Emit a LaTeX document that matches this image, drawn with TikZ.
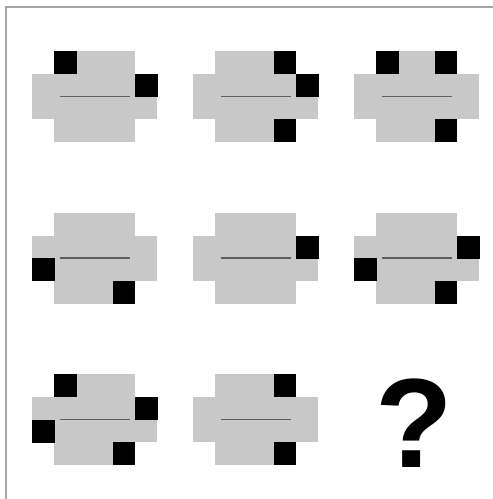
\documentclass[tikz,border=0pt]{standalone}
\usepackage{fontspec}
\setmainfont{Liberation Sans}
\usepackage{tikz}
\usetikzlibrary{positioning}
\definecolor{bodygray}{RGB}{200,200,200}
\definecolor{rulegray}{RGB}{95,95,95}
\definecolor{framegray}{RGB}{165,165,165}

\begin{document}
\begin{tikzpicture}[
    x=1pt, y=-1pt,
    body/.style={fill=bodygray},
    blackbox/.style={fill=black},
    midline/.style={draw=rulegray, line width=1.5pt},
    frameline/.style={draw=framegray, line width=1.5pt},
    query/.style={font=\fontsize{127}{127}\selectfont\bfseries, inner sep=0pt},
    puzzle/.pic={
        \fill[body] (-62.5,-22.5) rectangle (62.5,22.5);
        \fill[body] (-40.5,-45.5) rectangle (40.5,45.5);
        \draw[midline] (-35,0) -- (35,0);
        \coordinate (A) at (-40.5,-45.5); % top left
        \coordinate (B) at (18,-45.5);    % top right
        \coordinate (C) at (18,22.5);     % bottom right
        \coordinate (E) at (40.5,-22.5);  % right side
        \coordinate (F) at (-62.5,0);     % left side
        \foreach \s in {#1} {\fill[blackbox] (\s) rectangle ++(22.5,23);}
    }
]
\useasboundingbox (0,0) rectangle (493,499);
\draw[frameline] (493,7) -- (6,7) -- (6,499);

% row 1
\pic (p11) at (94.5,96.5) {puzzle={A,E}};
\pic (p12) at (255.5,96.5) {puzzle={B,E,C}};
\pic (p13) at (416.5,96.5) {puzzle={A,B,C}};
% row 2
\pic (p21) at (94.5,258) {puzzle={F,C}};
\pic (p22) at (255.5,258) {puzzle={E}};
\pic (p23) at (416.5,258) {puzzle={E,F,C}};
% row 3
\pic (p31) at (94.5,419.5) {puzzle={A,E,F,C}};
\pic (p32) at (255.5,419.5) {puzzle={B,C}};
\node[query] (q) at (414,423.5) {?};
\end{tikzpicture}
\end{document}
